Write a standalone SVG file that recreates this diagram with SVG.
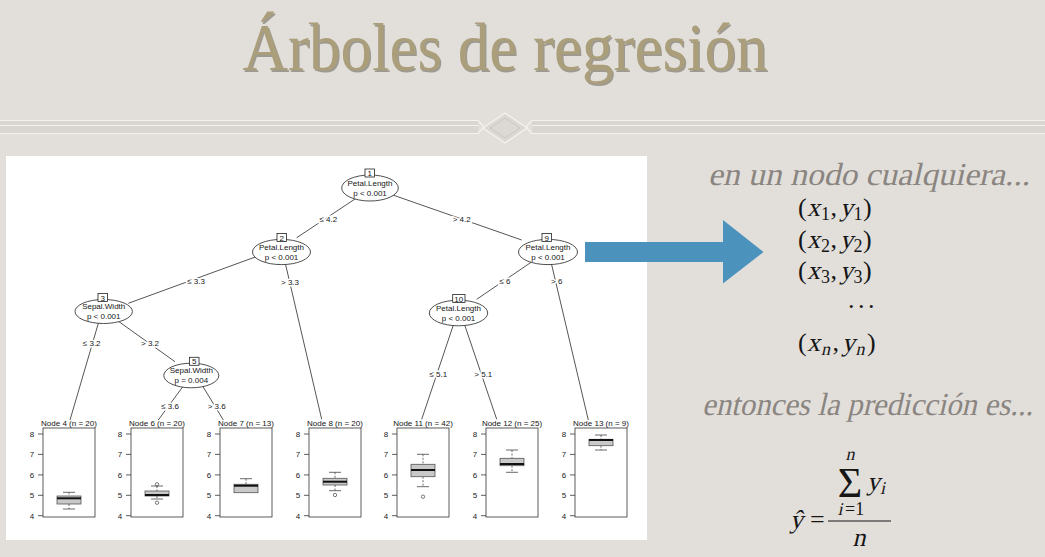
<svg xmlns="http://www.w3.org/2000/svg" width="1045" height="557" viewBox="0 0 1045 557">
  <defs>
    <style>
      .tree text{font-family:"Liberation Sans",Arial,sans-serif;font-size:8px;fill:#151515;text-anchor:middle}
      .edge{stroke:#2a2a2a;stroke-width:0.8;fill:none}
      .elab{stroke:#fff;stroke-width:3;paint-order:stroke}
      .ell{fill:#fff;stroke:#222;stroke-width:0.8}
      .idx{fill:#fff;stroke:#222;stroke-width:0.8}
      .frame{fill:#fff;stroke:#333;stroke-width:0.8}
      .tick{stroke:#333;stroke-width:0.8}
      .ax{font-family:"Liberation Sans",Arial,sans-serif;font-size:8px;fill:#222;text-anchor:middle}
      .box{fill:#c9c9c9;stroke:#555;stroke-width:0.8}
      .med{stroke:#111;stroke-width:2}
      .whisk{stroke:#444;stroke-width:0.8;stroke-dasharray:2 1.5}
      .cap{stroke:#444;stroke-width:0.8}
      .out{fill:none;stroke:#444;stroke-width:0.7}
      .deco{stroke:#f4f2ef;stroke-width:1.2;fill:none}
      .note{font-family:"Liberation Serif","Times New Roman",serif;font-size:32px;fill:#8a8580}
      .math{font-family:"Liberation Serif","Times New Roman",serif;font-size:26px;fill:#161616}
      .small{font-size:18px}
      .big{font-size:42px}
    </style>
    <!-- y axis shared by every terminal panel: 4..8 -->
    <g id="axis">
      <path class="tick" d="M-5 434H0M-5 454.4H0M-5 474.9H0M-5 495.3H0M-5 515.7H0"/>
      <text class="ax" x="-11" y="437">8</text>
      <text class="ax" x="-11" y="457.4">7</text>
      <text class="ax" x="-11" y="477.9">6</text>
      <text class="ax" x="-11" y="498.3">5</text>
      <text class="ax" x="-11" y="518.7">4</text>
    </g>
  </defs>

  <!-- slide background -->
  <rect x="0" y="0" width="1045" height="557" fill="#e2dfdb"/>

  <!-- title -->
  <g id="title" font-family="Liberation Serif,'Times New Roman',serif" font-size="68" text-anchor="middle">
    <text x="506.5" y="71.5" fill="#5c5747" opacity="0.5" textLength="525" lengthAdjust="spacingAndGlyphs">Árboles de regresión</text>
    <text x="505" y="70" fill="#ab9f7b" textLength="525" lengthAdjust="spacingAndGlyphs">Árboles de regresión</text>
  </g>

  <!-- ornamental divider -->
  <g id="divider">
    <rect x="0" y="120" width="478" height="13" fill="#d9d5d0"/>
    <rect x="532" y="120" width="513" height="13" fill="#d9d5d0"/>
    <path class="deco" d="M0 120.5H478M0 125.5H478M0 133.5H478M532 120.5H1045M532 125.5H1045M532 133.5H1045"/>
    <path class="deco" d="M478 120.5L484 127L478 133.5M532 120.5L526 127L532 133.5"/>
    <polygon points="505,113 527,128 505,143 483,128" fill="#dcd8d3" stroke="#f4f2ef" stroke-width="1.3"/>
    <polygon points="505,118 520,128 505,138 490,128" fill="none" stroke="#cbc6c0" stroke-width="1"/>
  </g>

  <!-- white plot panel -->
  <rect id="panel" x="6" y="156" width="641" height="384" fill="#ffffff"/>

  <g class="tree">
    <!-- connectors -->
    <g id="connectors">
      <path class="edge" d="M358 197L296.7 237.7"/>
      <path class="edge" d="M390 194L521.7 240"/>
      <path class="edge" d="M258 256L128.3 303.3"/>
      <path class="edge" d="M285 262L321.7 419.3"/>
      <path class="edge" d="M533 261L476.7 299.3"/>
      <path class="edge" d="M551 262L588.3 420"/>
      <path class="edge" d="M99 321L70 420"/>
      <path class="edge" d="M118 321L175 361.7"/>
      <path class="edge" d="M184 385L158.3 420"/>
      <path class="edge" d="M202 385L223.3 420"/>
      <path class="edge" d="M454 323L421.7 419.3"/>
      <path class="edge" d="M464 323L496.7 419.3"/>
      <text class="elab" x="328.3" y="221.7">≤ 4.2</text>
      <text class="elab" x="461.7" y="221.7">&gt; 4.2</text>
      <text class="elab" x="196" y="284">≤ 3.3</text>
      <text class="elab" x="290" y="284.7">&gt; 3.3</text>
      <text class="elab" x="505" y="283.7">≤ 6</text>
      <text class="elab" x="556.7" y="283.7">&gt; 6</text>
      <text class="elab" x="91.7" y="345.7">≤ 3.2</text>
      <text class="elab" x="150" y="345.7">&gt; 3.2</text>
      <text class="elab" x="170" y="409">≤ 3.6</text>
      <text class="elab" x="216.7" y="409">&gt; 3.6</text>
      <text class="elab" x="438.3" y="377">≤ 5.1</text>
      <text class="elab" x="483.3" y="377">&gt; 5.1</text>
    </g>

    <!-- inner nodes -->
    <g id="node1">
      <ellipse class="ell" cx="370" cy="188" rx="28.3" ry="13"/>
      <rect class="idx" x="365" y="169" width="9.5" height="8"/>
      <text x="369.8" y="176">1</text>
      <text x="370" y="185.5">Petal.Length</text>
      <text x="370" y="195.5">p &lt; 0.001</text>
    </g>
    <g id="node2">
      <ellipse class="ell" cx="281.5" cy="252" rx="29" ry="12.6"/>
      <rect class="idx" x="277" y="233.5" width="9.5" height="8"/>
      <text x="281.8" y="240.5">2</text>
      <text x="281.5" y="249.5">Petal.Length</text>
      <text x="281.5" y="259.5">p &lt; 0.001</text>
    </g>
    <g id="node9">
      <ellipse class="ell" cx="548" cy="252" rx="29.5" ry="12.6"/>
      <rect class="idx" x="542" y="233.5" width="9.5" height="8"/>
      <text x="546.8" y="240.5">9</text>
      <text x="548" y="249.5">Petal.Length</text>
      <text x="548" y="259.5">p &lt; 0.001</text>
    </g>
    <g id="node3">
      <ellipse class="ell" cx="103.7" cy="311.5" rx="28.7" ry="12"/>
      <rect class="idx" x="98" y="293.5" width="9.5" height="8"/>
      <text x="102.8" y="300.5">3</text>
      <text x="103.7" y="309">Sepal.Width</text>
      <text x="103.7" y="319">p &lt; 0.001</text>
    </g>
    <g id="node5">
      <ellipse class="ell" cx="191.3" cy="375.5" rx="27.5" ry="12.3"/>
      <rect class="idx" x="189.5" y="357.3" width="9.5" height="8"/>
      <text x="194.3" y="364.3">5</text>
      <text x="191.3" y="373">Sepal.Width</text>
      <text x="191.3" y="383">p = 0.004</text>
    </g>
    <g id="node10">
      <ellipse class="ell" cx="458.5" cy="313" rx="29.2" ry="12.8"/>
      <rect class="idx" x="452.7" y="294.5" width="12.3" height="8"/>
      <text x="458.8" y="301.5">10</text>
      <text x="458.5" y="310.5">Petal.Length</text>
      <text x="458.5" y="320.5">p &lt; 0.001</text>
    </g>

    <!-- terminal nodes: boxplots of the response -->
    <g id="node4" transform="translate(43,0)">
      <text x="26" y="426">Node 4 (n = 20)</text>
      <rect class="frame" x="0" y="428" width="52" height="89"/>
      <use href="#axis"/>
      <path class="whisk" d="M26 492.3V496M26 504V509"/>
      <path class="cap" d="M20 492.3H32M20 509H32"/>
      <rect class="box" x="14" y="496" width="24" height="8"/>
      <line class="med" x1="14" x2="38" y1="498.3" y2="498.3"/>
    </g>
    <g id="node6" transform="translate(131,0)">
      <text x="26" y="426">Node 6 (n = 20)</text>
      <rect class="frame" x="0" y="428" width="52" height="89"/>
      <use href="#axis"/>
      <path class="whisk" d="M26 486V491M26 496V499"/>
      <path class="cap" d="M20 486H32M20 499H32"/>
      <rect class="box" x="14" y="491" width="24" height="5"/>
      <line class="med" x1="14" x2="38" y1="495" y2="495"/>
      <circle class="out" cx="26" cy="484.3" r="1.7"/>
      <circle class="out" cx="26" cy="502.7" r="1.7"/>
    </g>
    <g id="node7" transform="translate(220,0)">
      <text x="26" y="426">Node 7 (n = 13)</text>
      <rect class="frame" x="0" y="428" width="52" height="89"/>
      <use href="#axis"/>
      <path class="whisk" d="M26 478.7V484.3"/>
      <path class="cap" d="M20 478.7H32"/>
      <rect class="box" x="14" y="484.3" width="24" height="8.4"/>
      <line class="med" x1="14" x2="38" y1="485.7" y2="485.7"/>
    </g>
    <g id="node8" transform="translate(309,0)">
      <text x="26" y="426">Node 8 (n = 20)</text>
      <rect class="frame" x="0" y="428" width="52" height="89"/>
      <use href="#axis"/>
      <path class="whisk" d="M26 472.3V478.3M26 485V490.7"/>
      <path class="cap" d="M20 472.3H32M20 490.7H32"/>
      <rect class="box" x="14" y="478.3" width="24" height="6.7"/>
      <line class="med" x1="14" x2="38" y1="481.7" y2="481.7"/>
      <circle class="out" cx="26" cy="495" r="1.7"/>
    </g>
    <g id="node11" transform="translate(397,0)">
      <text x="26" y="426">Node 11 (n = 42)</text>
      <rect class="frame" x="0" y="428" width="52" height="89"/>
      <use href="#axis"/>
      <path class="whisk" d="M26 454.3V464.3M26 476.7V486.7"/>
      <path class="cap" d="M20 454.3H32M20 486.7H32"/>
      <rect class="box" x="14" y="464.3" width="24" height="12.4"/>
      <line class="med" x1="14" x2="38" y1="470" y2="470"/>
      <circle class="out" cx="26" cy="496.7" r="1.7"/>
    </g>
    <g id="node12" transform="translate(486,0)">
      <text x="26" y="426">Node 12 (n = 25)</text>
      <rect class="frame" x="0" y="428" width="52" height="89"/>
      <use href="#axis"/>
      <path class="whisk" d="M26 450V458.3M26 465.7V472.3"/>
      <path class="cap" d="M20 450H32M20 472.3H32"/>
      <rect class="box" x="14" y="458.3" width="24" height="7.4"/>
      <line class="med" x1="14" x2="38" y1="464" y2="464"/>
    </g>
    <g id="node13" transform="translate(575,0)">
      <text x="26" y="426">Node 13 (n = 9)</text>
      <rect class="frame" x="0" y="428" width="52" height="89"/>
      <use href="#axis"/>
      <path class="whisk" d="M26 435V439.3M26 445.7V450"/>
      <path class="cap" d="M20 435H32M20 450H32"/>
      <rect class="box" x="14" y="439.3" width="24" height="6.4"/>
      <line class="med" x1="14" x2="38" y1="440" y2="440"/>
    </g>
  </g>

  <!-- block arrow pointing to the node sample -->
  <polygon id="arrow" points="585,242 723,242 723,220 763.5,252 723,283.5 723,262 585,262" fill="#4b92bd"/>

  <!-- sample inside a node (slanted glyphs are serif text under a skew) -->
  <g id="sample">
    <text class="note" transform="translate(708,185) skewX(-13)" textLength="322" lengthAdjust="spacingAndGlyphs">en un nodo cualquiera...</text>

    <g class="math">
      <text x="798" y="216">(</text>
      <text transform="translate(807,216) skewX(-13)">x</text>
      <text class="small" x="821" y="220">1</text>
      <text x="830.5" y="216">,</text>
      <text transform="translate(840,216) skewX(-13)">y</text>
      <text class="small" x="853.5" y="220">1</text>
      <text x="863" y="216">)</text>

      <text x="798" y="248">(</text>
      <text transform="translate(807,248) skewX(-13)">x</text>
      <text class="small" x="821" y="252">2</text>
      <text x="830.5" y="248">,</text>
      <text transform="translate(840,248) skewX(-13)">y</text>
      <text class="small" x="853.5" y="252">2</text>
      <text x="863" y="248">)</text>

      <text x="798" y="279">(</text>
      <text transform="translate(807,279) skewX(-13)">x</text>
      <text class="small" x="821" y="283">3</text>
      <text x="830.5" y="279">,</text>
      <text transform="translate(840,279) skewX(-13)">y</text>
      <text class="small" x="853.5" y="283">3</text>
      <text x="863" y="279">)</text>

      <text x="848" y="308" letter-spacing="3.5">...</text>

      <text x="798" y="351">(</text>
      <text transform="translate(807,351) skewX(-13)">x</text>
      <text class="small" transform="translate(821,355) skewX(-13)">n</text>
      <text x="832.5" y="351">,</text>
      <text transform="translate(842,351) skewX(-13)">y</text>
      <text class="small" transform="translate(855.5,355) skewX(-13)">n</text>
      <text x="867" y="351">)</text>
    </g>
  </g>

  <!-- prediction formula -->
  <g id="prediction">
    <text class="note" transform="translate(702,415) skewX(-13)" textLength="331" lengthAdjust="spacingAndGlyphs">entonces la predicción es...</text>
    <g class="math">
      <text transform="translate(790,528) skewX(-13)">ŷ</text>
      <text x="810" y="528">=</text>
      <text class="small" transform="translate(850,460) skewX(-13)" text-anchor="middle">n</text>
      <text class="big" x="850" y="497" text-anchor="middle">Σ</text>
      <text transform="translate(867,490) skewX(-13)">y</text>
      <text class="small" transform="translate(880,494) skewX(-13)">i</text>
      <text class="small" transform="translate(837.5,515) skewX(-13)">i</text>
      <text class="small" x="845" y="515">=1</text>
      <line x1="828" y1="521" x2="891" y2="521" stroke="#161616" stroke-width="1"/>
      <text transform="translate(859,546) skewX(-13)" text-anchor="middle">n</text>
    </g>
  </g>
</svg>
